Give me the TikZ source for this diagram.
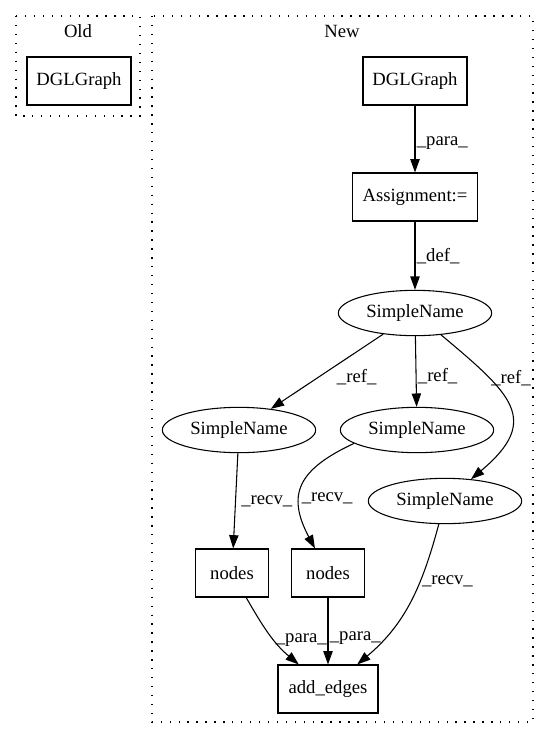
\documentclass[tikz,border=0pt]{standalone}
\usepackage{fontspec}
\setmainfont{Liberation Serif}
\usetikzlibrary{arrows.meta,shapes.geometric}

\begin{document}
\begin{tikzpicture}[x=0.75pt,y=-0.75pt,line width=0.8pt,
    every node/.style={font=\fontsize{14pt}{16pt}\selectfont},
    box/.style={draw,minimum height=36pt,inner sep=0pt},
    oval/.style={draw,ellipse,minimum width=115pt,minimum height=34pt,inner sep=0pt},
    lbl/.style={draw=none,anchor=west,inner sep=1pt},
    cluster/.style={line width=1pt,dash pattern=on 1pt off 5.7pt},
    >={Triangle[length=10pt,width=7pt]}]
    \useasboundingbox (0,0) rectangle (549,740);

    % clusters
    \draw[cluster] (16,16) rectangle (140,116);
    \draw[cluster] (152,16) rectangle (533,722);
    \node[] at (78,31) (oldlbl) {Old};
    \node[] at (342,31) (newlbl) {New};

    \node[box,minimum width=78pt] at (79,81) (oldgraph) {DGLGraph};

    \node[box,minimum width=78pt] at (415,81) (newgraph) {DGLGraph};
    \node[box,minimum width=94pt] at (415,197) (assign) {Assignment:=};
    \node[oval] at (415,313) (sn) {SimpleName};
    \node[oval] at (239,430) (snl) {SimpleName};
    \node[oval] at (417,430) (snm) {SimpleName};
    \node[oval] at (445,501) (snr) {SimpleName};
    \node[box,minimum width=55pt] at (232,573) (nodesl) {nodes};
    \node[box,minimum width=55pt] at (328,573) (nodesm) {nodes};
    \node[box,minimum width=75pt] at (328,689) (addedges) {add\_edges};

	\path[->] (newgraph) edge node [lbl,pos=0.56] (e1) {\_para\_} (assign);
	\path[->] (assign) edge node [lbl,pos=0.5] (e2) {\_def\_} (sn);
	\path[->] (sn) edge node [lbl,pos=0.57,xshift=12pt] (e3) {\_ref\_} (snl);
	\path[->] (sn) edge node [lbl,pos=0.56] (e4) {\_ref\_} (snm);
	\path[->] (sn) edge [out=-40,in=40,looseness=1.6] node [lbl,pos=0.28] (e5) {\_ref\_} (snr);

	\path[->] (snl) edge node [lbl,pos=0.5,xshift=3pt] (e6) {\_recv\_} (nodesl);
	\path[->] (snm.192) edge [out=205,in=118,looseness=1.4] node [lbl,pos=0.63] (e7) {\_recv\_} (nodesm);
	\path[->] (snr) edge [out=255,in=40] node [lbl,pos=0.35] (e8) {\_recv\_} (addedges);

	\path[->] (nodesl) edge [out=-60,in=140] node [lbl,pos=0.6] (e9) {\_para\_} (addedges);
	\path[->] (nodesm) edge node [lbl,pos=0.6] (e10) {\_para\_} (addedges);
\end{tikzpicture}
\end{document}
